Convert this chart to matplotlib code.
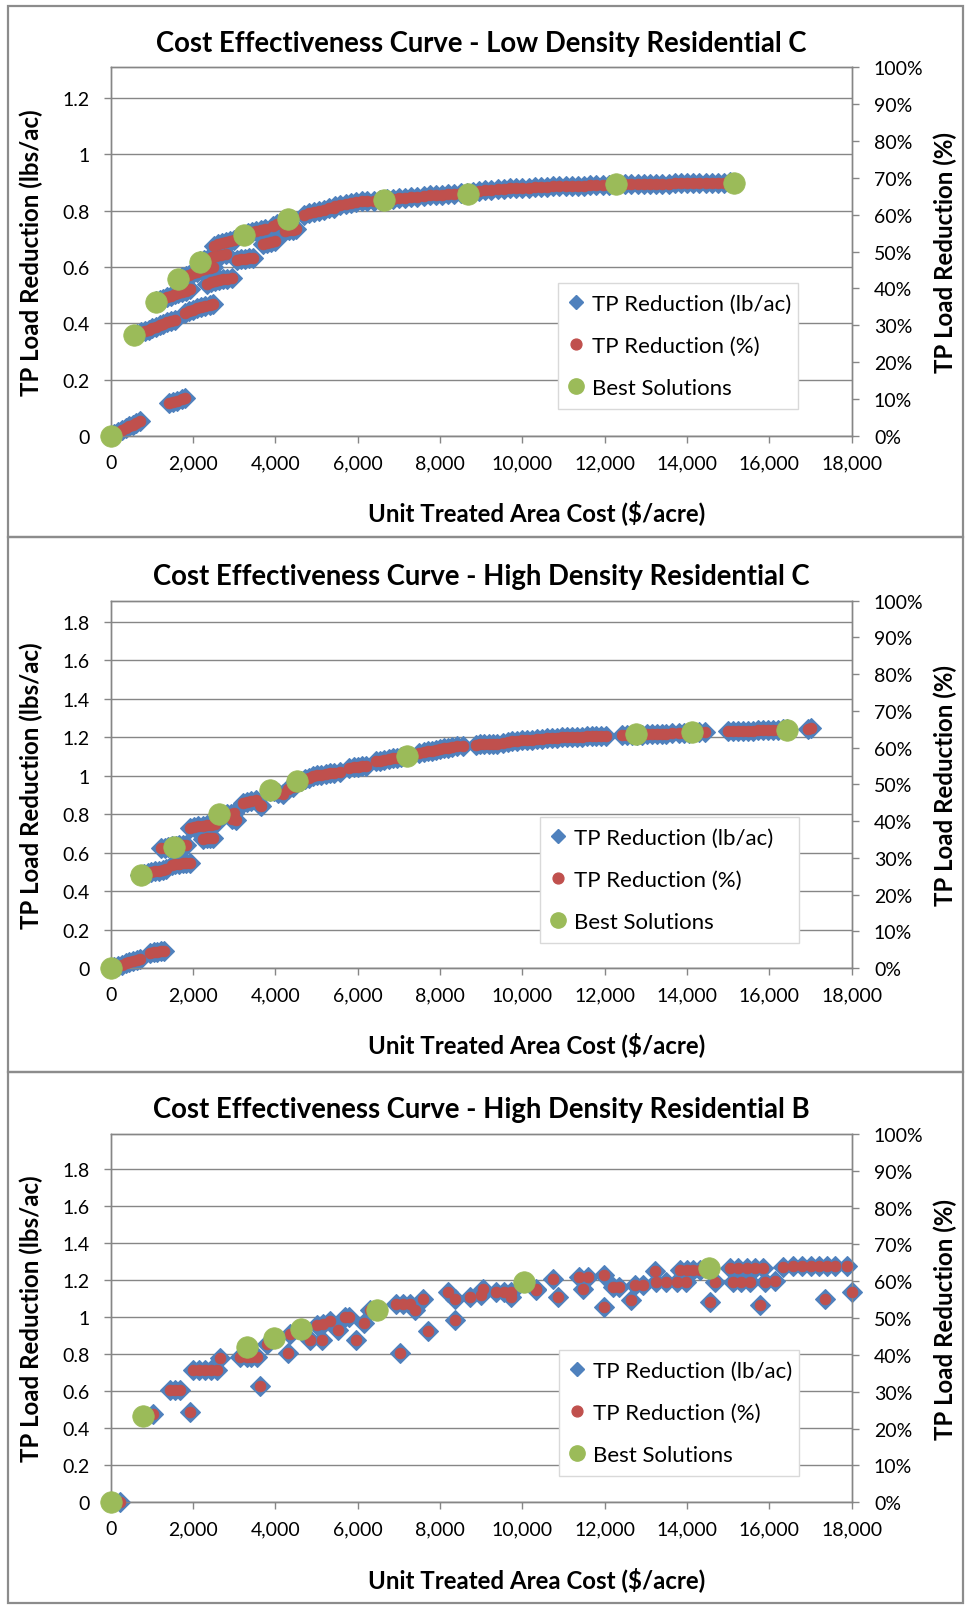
import matplotlib
matplotlib.use('Agg')
import matplotlib.pyplot as plt
from matplotlib.lines import Line2D
from matplotlib.patches import Rectangle
from matplotlib.ticker import FuncFormatter, MultipleLocator

plt.rcParams['font.family'] = ['Lato', 'DejaVu Sans']

BLUE = '#4F81BD'
RED = '#C0504D'
GREEN = '#9BBB59'
GRID = '#868686'
BORDER = '#8C8C8C'

W, H = 965, 1606

titles = ["Cost Effectiveness Curve - Low Density Residential C",
          "Cost Effectiveness Curve - High Density Residential C",
          "Cost Effectiveness Curve - High Density Residential B"]
x_label = "Unit Treated Area Cost ($/acre)"
y_label_left = "TP Load Reduction (lbs/ac)"
y_label_right = "TP Load Reduction (%)"
legend_labels = ["TP Reduction (lb/ac)", "TP Reduction (%)", "Best Solutions"]

# baseline TP load (lbs/ac) of each land use -> 100 % on the right axis
baseline_load = [1.31, 1.91, 1.99]
left_ticks_max = [1.2, 1.8, 1.8]

# ---------------- Panel 1 : Low Density Residential C ----------------
ldr_c_cost = [0, 90, 180, 270, 360, 450, 540, 620, 700,
              1420, 1520, 1620, 1720, 1800,
              560, 650, 740, 830, 920, 1010, 1100, 1190, 1280, 1370, 1460, 1550,
              1100, 1190, 1280, 1370, 1460, 1550, 1640, 1730, 1820, 1920,
              1800, 1900, 2000, 2100, 2200, 2300, 2400, 2480,
              1640, 1730, 1820, 1910, 2000, 2100, 2200, 2300, 2400, 2480,
              2330, 2430, 2530, 2630, 2730, 2830, 2950,
              2170, 2270, 2370, 2470, 2570, 2680, 2800,
              2500, 2600, 2700, 2800, 2900, 3000,
              3060, 3160, 3260, 3360, 3460,
              3240, 3340, 3440, 3540, 3640, 3740,
              3700, 3800, 3900, 3980,
              3950, 4050, 4150, 4250, 4350,
              4230, 4330, 4430, 4510,
              4700, 4820, 4940, 5060, 5180, 5300, 5420,
              5450, 5580, 5710, 5840, 5970, 6100, 6230,
              6400, 6550, 6700, 6850, 7000, 7150, 7300, 7450, 7600, 7750,
              7900, 8050, 8200, 8350, 8500, 8650, 8800, 8950, 9100, 9250,
              9400, 9550, 9700, 9850, 10000, 10150, 10300, 10450, 10600, 10750,
              10900, 11050, 11200, 11350, 11500, 11650, 11800, 11950, 12100, 12250,
              12500, 12650, 12800, 12950, 13100, 13250, 13400, 13550, 13700, 13850,
              14000, 14150, 14300, 14450, 14600, 14750, 14900, 15050]
ldr_c_lb = [0.000, 0.007, 0.014, 0.021, 0.028, 0.034, 0.040, 0.046, 0.052,
            0.116, 0.121, 0.126, 0.131, 0.134,
            0.358, 0.363, 0.368, 0.373, 0.378, 0.383, 0.388, 0.393, 0.398, 0.403, 0.408, 0.413,
            0.478, 0.483, 0.488, 0.493, 0.498, 0.503, 0.508, 0.512, 0.516, 0.521,
            0.438, 0.443, 0.448, 0.453, 0.457, 0.461, 0.465, 0.468,
            0.558, 0.563, 0.568, 0.573, 0.578, 0.583, 0.588, 0.592, 0.596, 0.599,
            0.540, 0.545, 0.549, 0.553, 0.556, 0.559, 0.562,
            0.620, 0.625, 0.630, 0.635, 0.640, 0.644, 0.647,
            0.675, 0.680, 0.684, 0.688, 0.692, 0.695,
            0.625, 0.627, 0.629, 0.631, 0.633,
            0.714, 0.719, 0.723, 0.727, 0.731, 0.735,
            0.680, 0.684, 0.688, 0.691,
            0.745, 0.752, 0.759, 0.765, 0.771,
            0.727, 0.730, 0.733, 0.735,
            0.785, 0.790, 0.795, 0.800, 0.804, 0.808, 0.811,
            0.815, 0.819, 0.823, 0.827, 0.830, 0.833, 0.836,
            0.836, 0.838, 0.840, 0.842, 0.844, 0.846, 0.848, 0.850, 0.852, 0.854,
            0.856, 0.857, 0.859, 0.860, 0.861, 0.862, 0.865, 0.869, 0.872, 0.875,
            0.877, 0.878, 0.879, 0.880, 0.881, 0.882, 0.883, 0.884, 0.885, 0.886,
            0.887, 0.887, 0.888, 0.889, 0.889, 0.890, 0.890, 0.891, 0.892, 0.893,
            0.894, 0.894, 0.894, 0.895, 0.895, 0.895, 0.896, 0.896, 0.897, 0.897,
            0.897, 0.898, 0.898, 0.898, 0.899, 0.899, 0.899, 0.900]
ldr_c_best_cost = [0, 566, 1100, 1626, 2168, 3236, 4304, 6642, 8672, 12282, 15129]
ldr_c_best_lb = [0.000, 0.357, 0.477, 0.556, 0.619, 0.714, 0.770, 0.839, 0.860, 0.895, 0.898]

# ---------------- Panel 2 : High Density Residential C ----------------
hdr_c_cost = [0, 90, 180, 270, 360, 450, 540, 630, 720,
              950, 1040, 1130, 1220, 1300,
              720, 810, 900, 990, 1080, 1170, 1260, 1350,
              1480, 1570, 1660, 1750, 1840, 1920,
              1220, 1310, 1400, 1490, 1580, 1670, 1760, 1820,
              1930, 2030, 2130, 2230, 2330, 2430, 2530,
              2250, 2330, 2410, 2490,
              2630, 2730, 2830, 2930, 3000, 2950, 3050,
              3220, 3320, 3420, 3540, 3660, 3620,
              3870, 3970, 4070, 4190, 4300, 4420,
              4520, 4620, 4720, 4820, 4920, 5020, 5120, 5220, 5320, 5420, 5560,
              5800, 5900, 6000, 6100, 6200,
              6450, 6550, 6650, 6750, 6850, 6950, 7050, 7150,
              7500, 7600, 7700, 7800, 7900, 8000, 8100, 8200, 8300, 8400, 8550,
              8880, 8980, 9080, 9180, 9280, 9380,
              9520, 9640, 9760, 9880, 10000, 10120, 10240, 10360, 10480, 10600,
              10720, 10840, 10960, 11080, 11200, 11320, 11440, 11560, 11680, 11800,
              11920, 12020,
              12420, 12540, 12660, 12780, 12900, 13020, 13140, 13260, 13380, 13500, 13640,
              13800, 13920, 14040, 14160, 14280, 14440,
              15000, 15120, 15240, 15360, 15480, 15600, 15720, 15840, 15960, 16080,
              16200, 16320, 16440,
              16950, 17020]
hdr_c_lb = [0.000, 0.006, 0.012, 0.018, 0.024, 0.030, 0.036, 0.041, 0.046,
            0.078, 0.081, 0.084, 0.087, 0.090,
            0.486, 0.490, 0.494, 0.498, 0.502, 0.506, 0.510, 0.514,
            0.538, 0.540, 0.542, 0.544, 0.546, 0.548,
            0.622, 0.626, 0.630, 0.633, 0.636, 0.639, 0.641, 0.642,
            0.728, 0.732, 0.736, 0.740, 0.743, 0.746, 0.749,
            0.672, 0.674, 0.676, 0.678,
            0.790, 0.795, 0.800, 0.803, 0.805, 0.775, 0.772,
            0.860, 0.864, 0.868, 0.872, 0.843, 0.850,
            0.922, 0.918, 0.912, 0.905, 0.930, 0.940,
            0.968, 0.975, 0.982, 0.990, 0.997, 1.002, 1.006, 1.010, 1.013, 1.016, 1.020,
            1.040, 1.043, 1.046, 1.049, 1.052,
            1.074, 1.078, 1.082, 1.086, 1.090, 1.094, 1.097, 1.100,
            1.118, 1.122, 1.126, 1.130, 1.134, 1.138, 1.142, 1.146, 1.150, 1.153, 1.156,
            1.162, 1.163, 1.164, 1.165, 1.166, 1.167,
            1.172, 1.175, 1.178, 1.181, 1.184, 1.186, 1.188, 1.190, 1.192, 1.194,
            1.196, 1.198, 1.199, 1.200, 1.201, 1.202, 1.203, 1.204, 1.205, 1.206,
            1.207, 1.208,
            1.210, 1.211, 1.212, 1.213, 1.214, 1.215, 1.216, 1.217, 1.218, 1.219, 1.220,
            1.222, 1.223, 1.224, 1.225, 1.226, 1.227,
            1.230, 1.231, 1.232, 1.233, 1.234, 1.235, 1.236, 1.237, 1.238, 1.239,
            1.240, 1.241, 1.242,
            1.245, 1.246]
hdr_c_best_cost = [0, 728, 1537, 2629, 3875, 4514, 7208, 12756, 14131, 16440]
hdr_c_best_lb = [0.000, 0.484, 0.631, 0.799, 0.924, 0.972, 1.102, 1.215, 1.228, 1.240]

# ---------------- Panel 3 : High Density Residential B ----------------
hdr_b_cost = [0, 227, 793, 1036, 1440, 1560, 1683, 1925, 2006, 2150, 2290, 2430, 2573,
              2654, 3139, 3300, 3420, 3543, 3317, 3624, 3786, 3956, 4312, 4352, 4611,
              4838, 5121, 5000, 5160, 5323, 5525, 5687, 5800, 5970, 6148, 6294, 6472,
              7022, 6940, 7100, 7265, 7386, 7588, 7710, 8195, 8357, 8357, 8720, 9045,
              9004, 9368, 9550, 9732, 9732, 10339, 10040, 10325, 10732, 10854, 11382,
              11463, 11585, 11992, 11992, 12195, 12358, 12642, 12724, 12927, 13211,
              13252, 13500, 13750, 13984, 13821, 14000, 14150, 14309, 14553, 14675,
              15040, 15250, 15450, 15650, 15853, 15122, 15320, 15528, 15772, 15894,
              16138, 16341, 16585, 16800, 17000, 17200, 17400, 17600, 17886, 17358, 18000]
hdr_b_lb = [0.000, 0.004, 0.466, 0.475, 0.605, 0.607, 0.608, 0.487, 0.713, 0.713, 0.713, 0.713, 0.713,
            0.780, 0.785, 0.785, 0.785, 0.785, 0.839, 0.626, 0.857, 0.890, 0.808, 0.910, 0.939,
            0.875, 0.875, 0.957, 0.965, 0.978, 0.930, 1.000, 1.000, 0.875, 0.969, 1.038, 1.038,
            0.809, 1.074, 1.074, 1.074, 1.040, 1.100, 0.926, 1.137, 1.097, 0.984, 1.110, 1.155,
            1.120, 1.137, 1.137, 1.137, 1.110, 1.155, 1.191, 1.146, 1.209, 1.110, 1.218,
            1.155, 1.218, 1.227, 1.056, 1.164, 1.164, 1.092, 1.173, 1.173, 1.249,
            1.190, 1.190, 1.190, 1.190, 1.255, 1.255, 1.255, 1.255, 1.083, 1.188,
            1.267, 1.267, 1.267, 1.267, 1.267, 1.188, 1.188, 1.188, 1.065, 1.188,
            1.195, 1.273, 1.278, 1.278, 1.278, 1.278, 1.278, 1.278, 1.278, 1.101, 1.137]
hdr_b_best_cost = [0, 793, 3317, 3956, 4611, 6472, 10040, 14537]
hdr_b_best_lb = [0.000, 0.466, 0.839, 0.890, 0.939, 1.038, 1.191, 1.264]

panels = [
    dict(cost=ldr_c_cost, lb=ldr_c_lb, bcost=ldr_c_best_cost, blb=ldr_c_best_lb,
         top=68, bottom=437, box=(8, 7, 963, 538), title_y=44, leg=(558, 284, 240)),
    dict(cost=hdr_c_cost, lb=hdr_c_lb, bcost=hdr_c_best_cost, blb=hdr_c_best_lb,
         top=601.7, bottom=969, box=(8, 538, 963, 1073), title_y=577, leg=(540, 818, 259)),
    dict(cost=hdr_b_cost, lb=hdr_b_lb, bcost=hdr_b_best_cost, blb=hdr_b_best_lb,
         top=1135, bottom=1503.3, box=(8, 1073, 963, 1604), title_y=1110, leg=(559, 1351, 240)),
]

fig = plt.figure(figsize=(W / 100, H / 100), dpi=100)
fig.patch.set_facecolor('white')

AX_L, AX_R = 110.7, 851.7
TICK_FS = 14
LABEL_FS = 17.3
TITLE_FS = 19.8
LEG_FS = 16
XLABEL_CX = 537

for i, p in enumerate(panels):
    # panel frame
    x0, y0, x1, y1 = p['box']
    fig.patches.append(Rectangle((x0 / W, 1 - y1 / H), (x1 - x0) / W, (y1 - y0) / H,
                                 transform=fig.transFigure, fill=False,
                                 edgecolor=BORDER, linewidth=1.6, zorder=0))

    ax = fig.add_axes([AX_L / W, 1 - p['bottom'] / H, (AX_R - AX_L) / W,
                       (p['bottom'] - p['top']) / H])
    load = baseline_load[i]
    ax.set_xlim(0, 18000)
    ax.set_ylim(0, load)
    ax.xaxis.set_major_locator(MultipleLocator(2000))
    ax.set_yticks([round(0.2 * k, 1) for k in range(int(round(left_ticks_max[i] / 0.2)) + 1)])
    ax.xaxis.set_major_formatter(FuncFormatter(lambda v, pos: f"{int(v):,}"))
    ax.yaxis.set_major_formatter(FuncFormatter(lambda v, pos: f"{v:g}"))
    ax.grid(axis='y', color=GRID, linewidth=1.0)
    ax.set_axisbelow(True)
    for s in ax.spines.values():
        s.set_color(GRID)
        s.set_linewidth(1.0)
    ax.tick_params(axis='y', direction='out', length=5, width=1, color=GRID,
                   pad=10, labelsize=TICK_FS)
    ax.tick_params(axis='x', direction='out', length=5, width=1, color=GRID,
                   pad=8, labelsize=TICK_FS)

    ax2 = ax.twinx()
    ax2.set_ylim(0, 100)
    ax2.yaxis.set_major_locator(MultipleLocator(10))
    ax2.yaxis.set_major_formatter(FuncFormatter(lambda v, pos: f"{int(v)}%"))
    ax2.tick_params(axis='y', direction='out', length=5, width=1, color=GRID,
                    pad=11, labelsize=TICK_FS)
    for s in ax2.spines.values():
        s.set_color(GRID)
        s.set_linewidth(1.0)

    pct = [v / load * 100 for v in p['lb']]

    ax.plot(p['cost'], p['lb'], linestyle='none', marker='D', markersize=9.8,
            markerfacecolor=BLUE, markeredgecolor=BLUE, markeredgewidth=0.8,
            clip_on=False, zorder=3)
    ax2.plot(p['cost'], pct, linestyle='none', marker='o', markersize=7.8,
             markerfacecolor=RED, markeredgecolor=RED, markeredgewidth=0.5,
             clip_on=False, zorder=4)
    ax2.plot(p['bcost'], p['blb'], linestyle='none', marker='o', markersize=15.5,
             markerfacecolor=GREEN, markeredgecolor=GREEN, markeredgewidth=0.5,
             transform=ax.transData, clip_on=False, zorder=5)

    # texts
    fig.text(0.5 * (AX_L + AX_R) / W, 1 - p['title_y'] / H, titles[i],
             ha='center', va='center', fontsize=TITLE_FS, fontweight='bold')
    fig.text(XLABEL_CX / W, 1 - (p['bottom'] + 76) / H, x_label,
             ha='center', va='center', fontsize=LABEL_FS, fontweight='bold')
    yc = 1 - 0.5 * (p['top'] + p['bottom']) / H
    fig.text(31 / W, yc, y_label_left, rotation=90, ha='center', va='center',
             fontsize=LABEL_FS, fontweight='bold')
    fig.text(945 / W, yc, y_label_right, rotation=90, ha='center', va='center',
             fontsize=LABEL_FS, fontweight='bold')

    # legend
    handles = [
        Line2D([], [], linestyle='none', marker='D', markersize=7.5,
               markerfacecolor=BLUE, markeredgecolor=BLUE),
        Line2D([], [], linestyle='none', marker='o', markersize=7.8,
               markerfacecolor=RED, markeredgecolor=RED),
        Line2D([], [], linestyle='none', marker='o', markersize=11,
               markerfacecolor=GREEN, markeredgecolor=GREEN),
    ]
    lx, ly, lw = p['leg']
    leg = ax2.legend(handles, legend_labels, loc='upper left',
                     bbox_to_anchor=(lx / W, 1 - ly / H, lw / W, 0.0),
                     bbox_transform=fig.transFigure, mode='expand',
                     fontsize=LEG_FS, frameon=True, fancybox=False, framealpha=1,
                     edgecolor='#D9D9D9', labelspacing=1.0, handlelength=0.7,
                     handletextpad=0.35, borderpad=0.48, borderaxespad=0)
    leg.get_frame().set_linewidth(1.0)
    leg.set_zorder(10)

fig.savefig('out.png', dpi=100, facecolor='white')
